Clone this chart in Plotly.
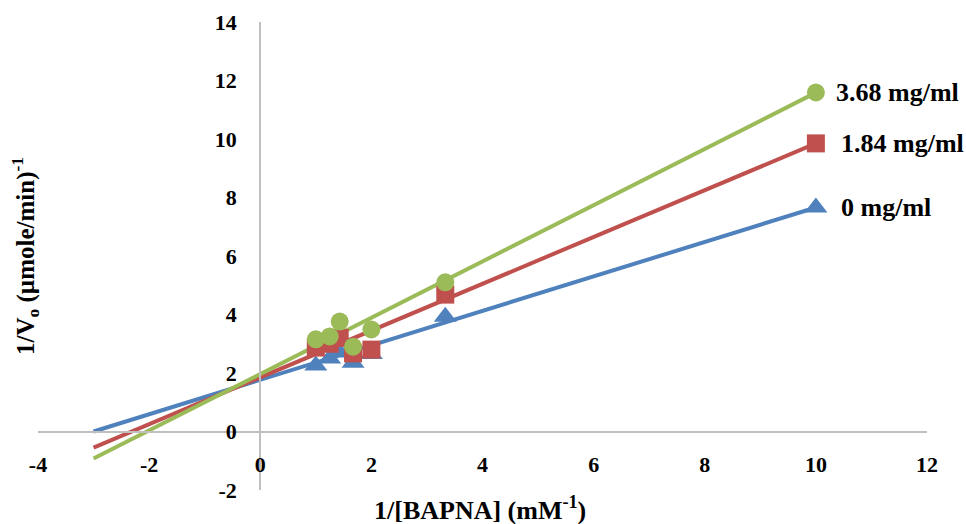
import plotly.graph_objects as go

# Data
x_vals = [1.0, 1.25, 1.43, 1.67, 2.0, 3.33, 10.0]
y_0 = [2.26, 2.5, 2.7, 2.35, 2.65, 3.92, 7.66]
y_184 = [2.87, 3.0, 3.2, 2.67, 2.8, 4.68, 9.85]
y_368 = [3.15, 3.25, 3.76, 2.9, 3.49, 5.1, 11.59]

series_names = ["0 mg/ml", "1.84 mg/ml", "3.68 mg/ml"]
series_y = [y_0, y_184, y_368]
colors = ["#4F81BD", "#C0504D", "#9BBB59"]
symbols = ["triangle-up", "square", "circle"]
marker_sizes = [20, 18, 18]
label_shift = [23, 23, 18]

# Linear trendlines (slope, intercept)
trend_slope = [0.589, 0.80, 0.962]
trend_intercept = [1.768, 1.85, 1.966]
trend_x = [-3, 10]

x_ticks = [-4, -2, 0, 2, 4, 6, 8, 10, 12]
y_ticks = [-2, 0, 2, 4, 6, 8, 10, 12, 14]

FONT = "Liberation Serif"
BOLD = dict(family=FONT, size=22, color="#000000", weight="bold")

fig = go.Figure()

for name, ys, c, m, b in zip(series_names, series_y, colors,
                             trend_slope, trend_intercept):
    fig.add_trace(go.Scatter(
        x=trend_x, y=[m * t + b for t in trend_x], mode="lines",
        line=dict(color=c, width=4), showlegend=False, hoverinfo="skip"))

for name, ys, c, sym, sz in zip(series_names, series_y, colors, symbols, marker_sizes):
    fig.add_trace(go.Scatter(
        x=x_vals, y=ys, mode="markers", name=name,
        marker=dict(symbol=sym, color=c, size=sz, line=dict(width=0)),
        showlegend=False))

for name, ys, sh in zip(series_names, series_y, label_shift):
    fig.add_annotation(x=x_vals[-1], y=ys[-1], text="<b>%s</b>" % name,
                       showarrow=False, xanchor="left", yanchor="middle",
                       xshift=sh, font=dict(family=FONT, size=26, color="#000000"))

fig.add_annotation(x=-0.0146, y=0.5, xref="paper", yref="paper",
                   text="<b>1/V<sub>o</sub> (µmole/min)<sup>-1</sup></b>",
                   textangle=-90, showarrow=False, xanchor="center", yanchor="middle",
                   font=dict(family=FONT, size=25, color="#000000"))
fig.add_annotation(x=0.497, y=-0.04, xref="paper", yref="paper",
                   text="<b>1/[BAPNA] (mM<sup>-1</sup>)</b>",
                   showarrow=False, xanchor="center", yanchor="middle",
                   font=dict(family=FONT, size=26, color="#000000"))

fig.update_layout(
    width=966, height=524,
    margin=dict(l=38, r=39, t=22, b=34),
    paper_bgcolor="white", plot_bgcolor="white",
    font=dict(family=FONT, size=22, color="#000000"),
    xaxis=dict(range=[-4, 12], tickvals=x_ticks,
               ticktext=[str(v) for v in x_ticks], tickfont=BOLD,
               showgrid=False, zeroline=False, showline=True,
               linecolor="#BFBFBF", linewidth=2, ticks="",
               anchor="free", position=0.125, automargin=False,
               ticklabelstandoff=13),
    yaxis=dict(range=[-2, 14], tickvals=y_ticks,
               ticktext=[str(v) for v in y_ticks], tickfont=BOLD,
               showgrid=False, zeroline=False, showline=True,
               linecolor="#BFBFBF", linewidth=2, ticks="",
               anchor="free", position=0.25, automargin=False,
               ticklabelstandoff=18),
)

fig.write_html("out.html")
